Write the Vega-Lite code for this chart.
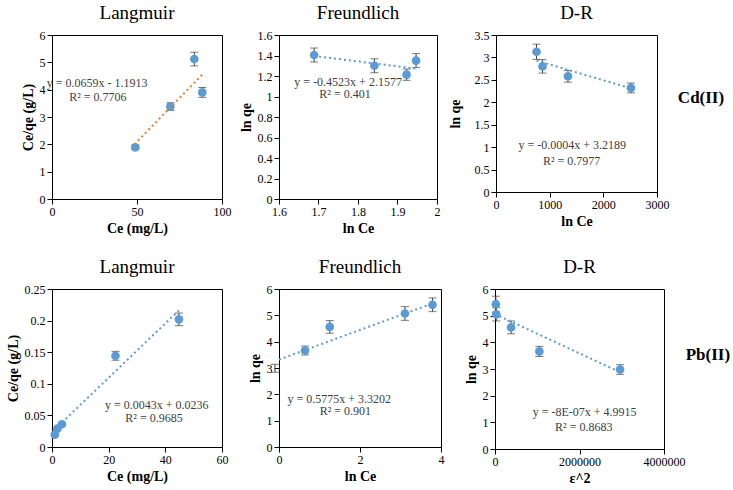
{
  "$schema": "https://vega.github.io/schema/vega-lite/v6.json",
  "background": "white",
  "padding": {"left": 5, "top": 3, "right": 0, "bottom": 0},
  "datasets": {
    "lcd": [{"x": 49, "y": 1.89, "e": 0.08}, {"x": 69.6, "y": 3.38, "e": 0.14}, {"x": 83.7, "y": 5.12, "e": 0.25}, {"x": 88.4, "y": 3.9, "e": 0.18}],
    "lcd_line": [{"x": 48.5, "y": 2.0}, {"x": 88.4, "y": 4.55}],
    "lcd_text": [{"x": 26.5, "y": 4.25, "t": "y = 0.0659x  - 1.1913"}, {"x": 27, "y": 3.72, "t": "R² = 0.7706"}],
    "fcd": [{"x": 1.689, "y": 1.405, "e": 0.068}, {"x": 1.8415, "y": 1.3, "e": 0.068}, {"x": 1.923, "y": 1.213, "e": 0.055}, {"x": 1.947, "y": 1.35, "e": 0.068}],
    "fcd_line": [{"x": 1.689, "y": 1.395}, {"x": 1.947, "y": 1.272}],
    "fcd_text": [{"x": 1.775, "y": 1.138, "t": "y = -0.4523x  + 2.1577"}, {"x": 1.767, "y": 1.025, "t": "R² = 0.401"}],
    "drcd": [{"x": 755, "y": 3.126, "e": 0.17}, {"x": 867, "y": 2.8, "e": 0.15}, {"x": 1341, "y": 2.58, "e": 0.13}, {"x": 2514, "y": 2.32, "e": 0.11}],
    "drcd_line": [{"x": 755, "y": 2.93}, {"x": 2514, "y": 2.31}],
    "drcd_text": [{"x": 1421, "y": 1.05, "t": "y = -0.0004x  + 3.2189"}, {"x": 1410, "y": 0.7, "t": "R² = 0.7977"}],
    "drcd_label": [{"x": 3820, "y": 2.1, "t": "Cd(II)"}],
    "lpb": [{"x": 1.0, "y": 0.0195, "e": 0.002}, {"x": 1.9, "y": 0.029, "e": 0.002}, {"x": 3.5, "y": 0.036, "e": 0.002}, {"x": 22.4, "y": 0.1443, "e": 0.007}, {"x": 44.8, "y": 0.202, "e": 0.01}],
    "lpb_line": [{"x": 1.0, "y": 0.0279}, {"x": 44.8, "y": 0.2162}],
    "lpb_text": [{"x": 37, "y": 0.0666, "t": "y = 0.0043x  + 0.0236"}, {"x": 36, "y": 0.0455, "t": "R² = 0.9685"}],
    "fpb": [{"x": -0.1, "y": 2.99, "e": 0.15}, {"x": 0.643, "y": 3.665, "e": 0.17}, {"x": 1.254, "y": 4.56, "e": 0.24}, {"x": 3.11, "y": 5.07, "e": 0.26}, {"x": 3.79, "y": 5.4, "e": 0.26}],
    "fpb_line": [{"x": 0, "y": 3.32}, {"x": 3.79, "y": 5.45}],
    "fpb_text": [{"x": 1.485, "y": 1.81, "t": "y = 0.5775x  + 3.3202"}, {"x": 1.64, "y": 1.35, "t": "R² = 0.901"}],
    "drpb": [{"x": 20000, "y": 5.43, "e": 0.3}, {"x": 30000, "y": 5.05, "e": 0.25}, {"x": 380000, "y": 4.56, "e": 0.24}, {"x": 1050000, "y": 3.66, "e": 0.19}, {"x": 2960000, "y": 2.98, "e": 0.18}],
    "drpb_line": [{"x": 0, "y": 5.06}, {"x": 2960000, "y": 2.88}],
    "drpb_text": [{"x": 2120000, "y": 1.38, "t": "y = -8E-07x  + 4.9915"}, {"x": 2100000, "y": 0.81, "t": "R² = 0.8683"}],
    "drpb_label": [{"x": 5040000, "y": 3.53, "t": "Pb(II)"}]
  },
  "vconcat": [
    {
      "spacing": 6,
      "hconcat": [
        {
          "title": "Langmuir",
          "width": 170, "height": 164,
          "data": {"name": "lcd"},
          "encoding": {
            "x": {"field": "x", "type": "quantitative", "scale": {"domain": [0, 100], "nice": false}, "axis": {"values": [0, 50, 100], "title": "Ce (mg/L)"}},
            "y": {"field": "y", "type": "quantitative", "scale": {"domain": [0, 6], "nice": false}, "axis": {"values": [0, 1, 2, 3, 4, 5, 6], "title": "Ce/qe (g/L)"}}
          },
          "layer": [
            {"mark": {"type": "errorbar", "ticks": {"size": 8, "color": "#404040"}, "rule": {"color": "#404040"}}, "encoding": {"yError": {"field": "e"}}},
            {"mark": {"type": "circle", "size": 75, "opacity": 1, "color": "#5B9BD5"}},
            {"data": {"name": "lcd_line"}, "mark": {"type": "line", "color": "#ED7D31", "strokeDash": [2, 3], "strokeWidth": 2}},
            {"data": {"name": "lcd_text"}, "mark": {"type": "text", "font": "Liberation Serif", "fontSize": 12, "color": "#404040"}, "encoding": {"text": {"field": "t"}}}
          ]
        },
        {
          "title": "Freundlich",
          "width": 158, "height": 164,
          "data": {"name": "fcd"},
          "encoding": {
            "x": {"field": "x", "type": "quantitative", "scale": {"domain": [1.6, 2], "nice": false, "zero": false}, "axis": {"values": [1.6, 1.7, 1.8, 1.9, 2], "format": "~g", "title": "ln Ce"}},
            "y": {"field": "y", "type": "quantitative", "scale": {"domain": [0, 1.6], "nice": false}, "axis": {"values": [0, 0.2, 0.4, 0.6, 0.8, 1, 1.2, 1.4, 1.6], "format": "~g", "title": "ln qe"}}
          },
          "layer": [
            {"mark": {"type": "errorbar", "ticks": {"size": 8, "color": "#404040"}, "rule": {"color": "#404040"}}, "encoding": {"yError": {"field": "e"}}},
            {"mark": {"type": "circle", "size": 75, "opacity": 1, "color": "#5B9BD5"}},
            {"data": {"name": "fcd_line"}, "mark": {"type": "line", "color": "#5B9BD5", "strokeDash": [2, 3], "strokeWidth": 2}},
            {"data": {"name": "fcd_text"}, "mark": {"type": "text", "font": "Liberation Serif", "fontSize": 12, "color": "#404040"}, "encoding": {"text": {"field": "t"}}}
          ]
        },
        {
          "title": "D-R",
          "width": 161, "height": 157,
          "data": {"name": "drcd"},
          "encoding": {
            "x": {"field": "x", "type": "quantitative", "scale": {"domain": [0, 3000], "nice": false}, "axis": {"values": [0, 1000, 2000, 3000], "format": "d", "title": "ln Ce"}},
            "y": {"field": "y", "type": "quantitative", "scale": {"domain": [0, 3.5], "nice": false}, "axis": {"values": [0, 0.5, 1, 1.5, 2, 2.5, 3, 3.5], "format": "~g", "title": "ln qe", "titlePadding": 12}}
          },
          "layer": [
            {"mark": {"type": "errorbar", "ticks": {"size": 8, "color": "#404040"}, "rule": {"color": "#404040"}}, "encoding": {"yError": {"field": "e"}}},
            {"mark": {"type": "circle", "size": 75, "opacity": 1, "color": "#5B9BD5"}},
            {"data": {"name": "drcd_line"}, "mark": {"type": "line", "color": "#5B9BD5", "strokeDash": [2, 3], "strokeWidth": 2}},
            {"data": {"name": "drcd_text"}, "mark": {"type": "text", "font": "Liberation Serif", "fontSize": 12, "color": "#404040"}, "encoding": {"text": {"field": "t"}}},
            {"data": {"name": "drcd_label"}, "mark": {"type": "text", "font": "Liberation Serif", "fontSize": 17, "fontWeight": "bold", "color": "black"}, "encoding": {"text": {"field": "t"}}}
          ]
        }
      ]
    },
    {
      "spacing": 18,
      "hconcat": [
        {
          "title": "Langmuir",
          "width": 170, "height": 158,
          "data": {"name": "lpb"},
          "encoding": {
            "x": {"field": "x", "type": "quantitative", "scale": {"domain": [0, 60], "nice": false}, "axis": {"values": [0, 20, 40, 60], "title": "Ce (mg/L)"}},
            "y": {"field": "y", "type": "quantitative", "scale": {"domain": [0, 0.25], "nice": false}, "axis": {"values": [0, 0.05, 0.1, 0.15, 0.2, 0.25], "format": "~g", "title": "Ce/qe (g/L)"}}
          },
          "layer": [
            {"mark": {"type": "errorbar", "ticks": {"size": 8, "color": "#404040"}, "rule": {"color": "#404040"}}, "encoding": {"yError": {"field": "e"}}},
            {"mark": {"type": "circle", "size": 75, "opacity": 1, "color": "#5B9BD5"}},
            {"data": {"name": "lpb_line"}, "mark": {"type": "line", "color": "#5B9BD5", "strokeDash": [2, 3], "strokeWidth": 2}},
            {"data": {"name": "lpb_text"}, "mark": {"type": "text", "font": "Liberation Serif", "fontSize": 12, "color": "#404040"}, "encoding": {"text": {"field": "t"}}}
          ]
        },
        {
          "title": "Freundlich",
          "width": 162, "height": 158,
          "data": {"name": "fpb"},
          "encoding": {
            "x": {"field": "x", "type": "quantitative", "scale": {"domain": [0, 4], "nice": false}, "axis": {"values": [0, 2, 4], "title": "ln Ce"}},
            "y": {"field": "y", "type": "quantitative", "scale": {"domain": [0, 6], "nice": false}, "axis": {"values": [0, 1, 2, 3, 4, 5, 6], "title": "ln qe"}}
          },
          "layer": [
            {"mark": {"type": "errorbar", "ticks": {"size": 8, "color": "#404040"}, "rule": {"color": "#404040"}}, "encoding": {"yError": {"field": "e"}}},
            {"mark": {"type": "circle", "size": 75, "opacity": 1, "color": "#5B9BD5", "clip": true}},
            {"data": {"name": "fpb_line"}, "mark": {"type": "line", "color": "#5B9BD5", "strokeDash": [2, 3], "strokeWidth": 2}},
            {"data": {"name": "fpb_text"}, "mark": {"type": "text", "font": "Liberation Serif", "fontSize": 12, "color": "#404040"}, "encoding": {"text": {"field": "t"}}}
          ]
        },
        {
          "title": "D-R",
          "width": 169, "height": 160,
          "data": {"name": "drpb"},
          "encoding": {
            "x": {"field": "x", "type": "quantitative", "scale": {"domain": [0, 4000000], "nice": false}, "axis": {"values": [0, 2000000, 4000000], "format": "d", "title": "ε^2"}},
            "y": {"field": "y", "type": "quantitative", "scale": {"domain": [0, 6], "nice": false}, "axis": {"values": [0, 1, 2, 3, 4, 5, 6], "title": "ln qe"}}
          },
          "layer": [
            {"mark": {"type": "errorbar", "ticks": {"size": 8, "color": "#404040"}, "rule": {"color": "#404040"}}, "encoding": {"yError": {"field": "e"}}},
            {"mark": {"type": "circle", "size": 75, "opacity": 1, "color": "#5B9BD5"}},
            {"data": {"name": "drpb_line"}, "mark": {"type": "line", "color": "#5B9BD5", "strokeDash": [2, 3], "strokeWidth": 2}},
            {"data": {"name": "drpb_text"}, "mark": {"type": "text", "font": "Liberation Serif", "fontSize": 12, "color": "#404040"}, "encoding": {"text": {"field": "t"}}},
            {"data": {"name": "drpb_label"}, "mark": {"type": "text", "font": "Liberation Serif", "fontSize": 17, "fontWeight": "bold", "color": "black"}, "encoding": {"text": {"field": "t"}}}
          ]
        }
      ]
    }
  ],
  "spacing": 21,
  "config": {
    "font": "Liberation Serif",
    "view": {"stroke": "black", "strokeWidth": 1},
    "axis": {
      "grid": false, "domainColor": "black", "tickColor": "black", "tickSize": 5,
      "labelFont": "Liberation Serif", "labelFontSize": 12, "labelColor": "black", "labelFlush": false, "labelOverlap": false,
      "titleFont": "Liberation Serif", "titleFontSize": 14, "titleFontWeight": "bold", "titleColor": "black"
    },
    "title": {"font": "Liberation Serif", "fontSize": 19, "fontWeight": "normal", "color": "black", "offset": 6}
  }
}
